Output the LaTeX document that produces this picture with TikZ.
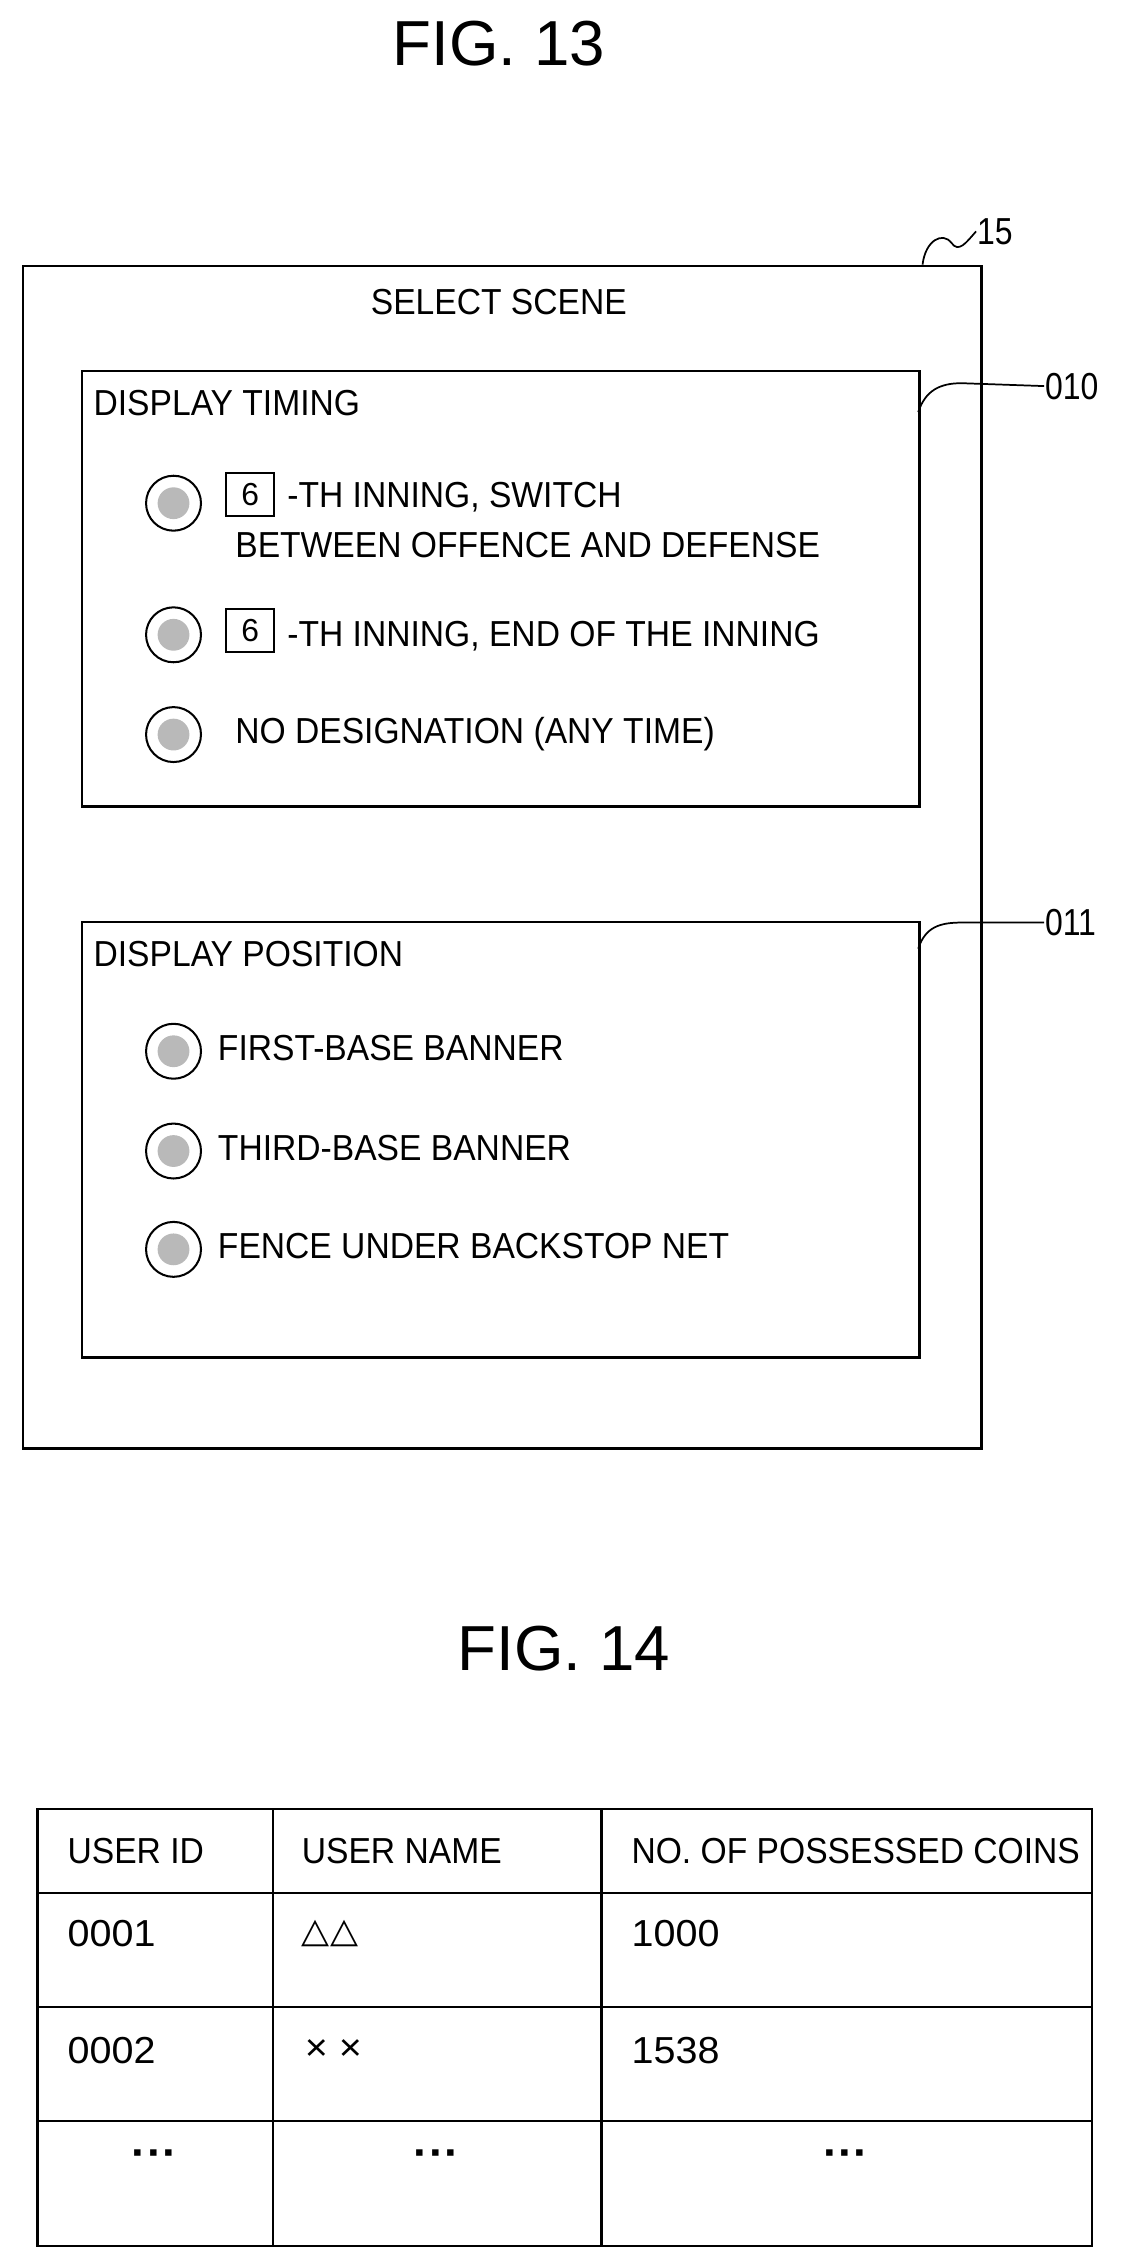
\documentclass[tikz,border=0pt]{standalone}
\usepackage{fontspec}
\setmainfont{Liberation Sans}
\newfontfamily\dvs{DejaVu Sans}
\begin{document}
\begin{tikzpicture}[x=1pt,y=1pt,line width=1.6pt,
  t/.style={anchor=west,inner sep=0,font=\fontsize{25}{25}\selectfont,xscale=0.93,transform shape},
  tt/.style={anchor=west,inner sep=0,font=\fontsize{26}{26}\selectfont,xscale=1.05,transform shape},
  fig/.style={inner sep=0,font=\fontsize{44}{44}\selectfont},
  lab/.style={anchor=west,inner sep=0,font=\fontsize{26}{26}\selectfont,xscale=0.85,transform shape},
  radio/.style={circle,draw,line width=1.4pt,minimum size=38pt,inner sep=0,path picture={\fill[gray!55] (path picture bounding box.center) circle (11pt);}},
  nb/.style={draw,line width=1.4pt,minimum width=33pt,minimum height=30pt,inner sep=0,font=\fontsize{22}{22}\selectfont}]
\useasboundingbox (0,0) rectangle (780,-1565);
\node[fig] (f13) at (345,-30) {FIG. 13};
\node[draw,minimum width=663pt,minimum height=818pt,anchor=north west,inner sep=0] (scr) at (15,-183) {};
\node[t,anchor=center] (ttl) at (345,-209) {SELECT SCENE};
\node[lab] (l15) at (675,-160) {15};
\coordinate (c15) at (638,-183);
\draw[line width=1.2pt] (c15) .. controls (640,-166) and (652,-160) .. (658,-168) .. controls (663,-175) and (668,-168) .. (l15.west);
% box 010
\node[draw,minimum width=579pt,minimum height=301pt,anchor=north west,inner sep=0] (b10) at (56,-256) {};
\node[lab] (l10) at (722,-267) {010};
\coordinate (c10) at (635,-285);
\draw[line width=1.2pt] (c10) .. controls (640,-270) and (650,-265) .. (665,-265) -- (l10.west);
\node[t] (dt) at (64,-279) {DISPLAY TIMING};
\node[radio] (r1) at (120,-348) {};
\node[nb] (n1) at (173,-342) {6};
\node[t] (x1) at (198,-344) {-TH INNING, SWITCH};
\node[t] (x1b) at (162,-377) {BETWEEN OFFENCE AND DEFENSE};
\node[radio] (r2) at (120,-439) {};
\node[nb] (n2) at (173,-436) {6};
\node[t] (x2) at (198,-440) {-TH INNING, END OF THE INNING};
\node[radio] (r3) at (120,-508) {};
\node[t] (x3) at (162,-508) {NO DESIGNATION (ANY TIME)};
% box 011
\node[draw,minimum width=579pt,minimum height=301pt,anchor=north west,inner sep=0] (b11) at (56,-637) {};
\node[lab] (l11) at (722,-638) {011};
\coordinate (c11) at (635,-656);
\draw[line width=1.2pt] (c11) .. controls (640,-641) and (650,-638) .. (665,-638) -- (l11.west);
\node[t] (dp) at (64,-660) {DISPLAY POSITION};
\node[radio] (p1) at (120,-727) {};
\node[t] (y1) at (150,-725) {FIRST-BASE BANNER};
\node[radio] (p2) at (120,-796) {};
\node[t] (y2) at (150,-794) {THIRD-BASE BANNER};
\node[radio] (p3) at (120,-864) {};
\node[t] (y3) at (150,-862) {FENCE UNDER BACKSTOP NET};
% FIG 14
\node[fig] (f14) at (390,-1140) {FIG. 14};
\draw (26,-1251) rectangle (755,-1553);
\draw (189,-1251) -- (189,-1553) (416,-1251) -- (416,-1553);
\draw (26,-1309) -- (755,-1309) (26,-1388) -- (755,-1388) (26,-1467) -- (755,-1467);
\node[t] (h1) at (46,-1280) {USER ID};
\node[t] (h2) at (208,-1280) {USER NAME};
\node[t] (h3) at (436,-1280) {NO. OF POSSESSED COINS};
\node[tt] (a1) at (46,-1337) {0001};
\node[tt,font=\dvs\fontsize{24}{24}\selectfont] (a2) at (208,-1337) {△△};
\node[tt] (a3) at (436,-1337) {1000};
\node[tt] (b1) at (46,-1418) {0002};
\node[tt] (b2) at (210,-1418) {× ×};
\node[tt] (b3) at (436,-1418) {1538};
\node[tt,anchor=center,font=\fontsize{30}{30}\selectfont\bfseries] (d1) at (107,-1493) {···};
\node[tt,anchor=center,font=\fontsize{30}{30}\selectfont\bfseries] (d2) at (302,-1493) {···};
\node[tt,anchor=center,font=\fontsize{30}{30}\selectfont\bfseries] (d3) at (585,-1493) {···};
\end{tikzpicture}
\end{document}
